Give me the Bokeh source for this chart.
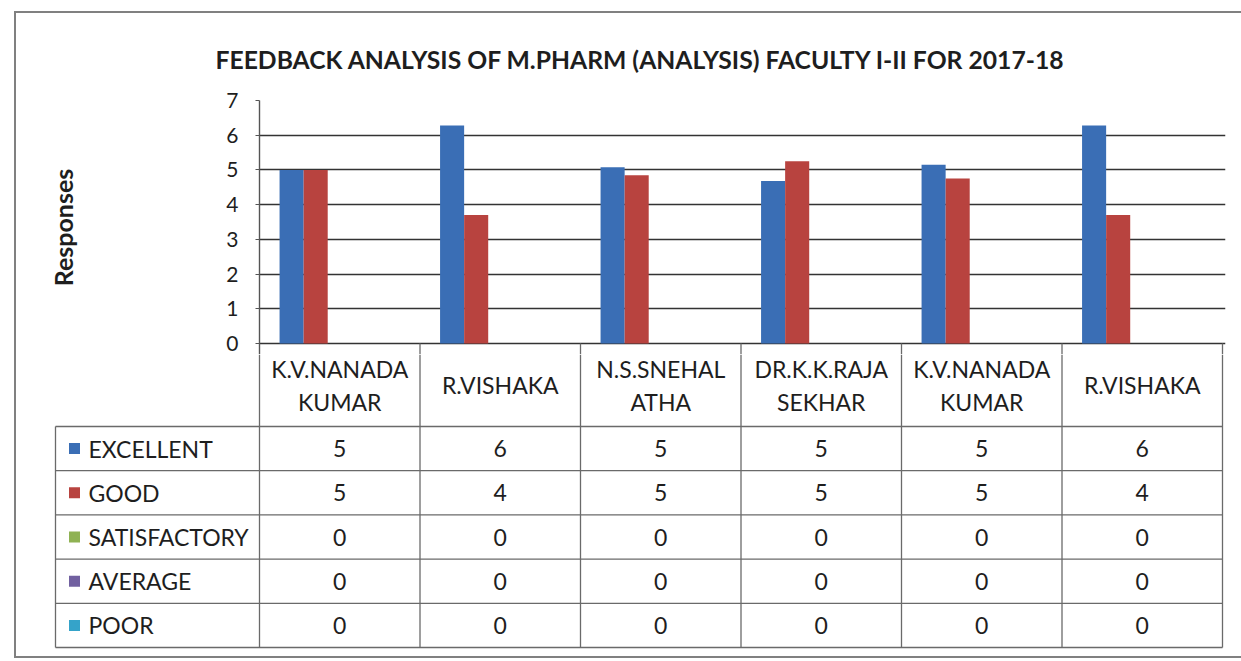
from bokeh.plotting import figure
from bokeh.models import Range1d, FixedTicker, ColumnDataSource, Title
from bokeh.layouts import column
from bokeh.embed import file_html
from bokeh.resources import INLINE
from bokeh.core.properties import value

# ---------------- data ----------------
title_text = "FEEDBACK ANALYSIS OF M.PHARM (ANALYSIS) FACULTY I-II FOR 2017-18"
y_label = "Responses"
faculty_lines = [["K.V.NANADA", "KUMAR"], ["R.VISHAKA"], ["N.S.SNEHAL", "ATHA"],
                 ["DR.K.K.RAJA", "SEKHAR"], ["K.V.NANADA", "KUMAR"], ["R.VISHAKA"]]
series_names = ["EXCELLENT", "GOOD", "SATISFACTORY", "AVERAGE", "POOR"]
excellent = [5.0, 6.28, 5.08, 4.68, 5.15, 6.28]
good = [5.0, 3.7, 4.85, 5.25, 4.75, 3.7]
satisfactory = [0, 0, 0, 0, 0, 0]
average = [0, 0, 0, 0, 0, 0]
poor = [0, 0, 0, 0, 0, 0]
y_ticks = [0, 1, 2, 3, 4, 5, 6, 7]
series_colors = ["#3a6eb5", "#b8433f", "#8fb253", "#7160a0", "#35a3c9"]

# ---------------- layout (page pixels) ----------------
FONT = "Lato"
OX, OY = 16, 13                 # content origin inside the outer border
PAGE_W, PAGE_BOTTOM = 1241, 656
COL_W = 160.5
FRAME_L = 259                   # category axis starts here
FRAME_R = FRAME_L + 6 * COL_W + 3
FRAME_TOP = 100
AXIS_Y = 343                    # value 0
SPLIT_Y = 354                   # boundary between chart and table figures
HEADER_BOTTOM = 426
ROW_H = 44.2
LEG_LEFT = 55
LINE_C = "#6a6a6a"
TXT_C = "#1e1e1e"

W = PAGE_W - OX
TOP_H = SPLIT_Y - OY
BOT_H = PAGE_BOTTOM - SPLIT_Y

n = len(faculty_lines)
series = [excellent, good, satisfactory, average, poor]
BAR_W = 0.15
unit = (AXIS_Y - FRAME_TOP) / 7.0
y_pad = (SPLIT_Y - AXIS_Y) / unit

# ---------------- chart ----------------
pA = figure(width=W, height=TOP_H,
            x_range=Range1d(0, (FRAME_R - FRAME_L) / COL_W),
            y_range=Range1d(-y_pad, 7), output_backend="svg", toolbar_location=None,
            x_axis_location=None, min_border_left=FRAME_L - OX,
            min_border_right=int(round(PAGE_W - FRAME_R)),
            min_border_top=FRAME_TOP - OY, min_border_bottom=0)
pA.frame_align = False
pA.add_layout(Title(text=title_text, align="left", offset=-44, standoff=54,
                    text_font=FONT, text_font_size="24.7px", text_font_style="bold",
                    text_color=TXT_C), "above")
pA.outline_line_color = None
pA.xgrid.visible = False
pA.ygrid.ticker = FixedTicker(ticks=y_ticks)
pA.ygrid.grid_line_color = "#333333"
pA.ygrid.grid_line_width = 1.4
ax = pA.yaxis[0]
ax.ticker = FixedTicker(ticks=y_ticks)
ax.axis_label = y_label
ax.axis_label_text_font = FONT
ax.axis_label_text_font_size = "25px"
ax.axis_label_text_font_style = "bold"
ax.axis_label_text_color = TXT_C
ax.axis_label_standoff = 145
ax.major_label_text_font = FONT
ax.major_label_text_font_size = "21px"
ax.major_label_text_color = TXT_C
ax.major_label_standoff = 17
ax.axis_line_color = "#555555"
ax.axis_line_width = 1.4
ax.major_tick_out = 4
ax.major_tick_in = 0
ax.major_tick_line_color = "#555555"
ax.minor_tick_line_color = None

for k, vals in enumerate(series):
    off = (k - 2) * BAR_W
    src = ColumnDataSource(dict(x=[i + 0.5 + off for i in range(n)], top=vals))
    pA.vbar(x="x", top="top", bottom=0, width=BAR_W, source=src,
            fill_color=series_colors[k], line_color=None)

# table column lines starting right under the category axis
cx = list(range(1, n + 1))
pA.segment(x0=cx, y0=[0] * len(cx), x1=cx, y1=[-y_pad] * len(cx),
           line_color=LINE_C, line_width=1.3)

# ---------------- data table ----------------
x0 = (OX - FRAME_L) / COL_W
pB = figure(width=W, height=BOT_H, x_range=Range1d(x0, x0 + W / COL_W),
            y_range=Range1d(PAGE_BOTTOM, SPLIT_Y), output_backend="svg",
            toolbar_location=None, x_axis_location=None, y_axis_location=None,
            min_border=0)
pB.frame_align = False
pB.outline_line_color = None
for g in pB.grid:
    g.visible = False

leg_left = (LEG_LEFT - FRAME_L) / COL_W
table_bottom = HEADER_BOTTOM + ROW_H * len(series_names)
hy = [HEADER_BOTTOM + ROW_H * k for k in range(len(series_names) + 1)]
pB.segment(x0=[leg_left] * len(hy), y0=hy, x1=[n] * len(hy), y1=hy,
           line_color=LINE_C, line_width=1.3)
vx = list(range(n + 1))
pB.segment(x0=vx, y0=[SPLIT_Y] * len(vx), x1=vx, y1=[table_bottom] * len(vx),
           line_color=LINE_C, line_width=1.3)
pB.segment(x0=[leg_left], y0=[HEADER_BOTTOM], x1=[leg_left], y1=[table_bottom],
           line_color=LINE_C, line_width=1.3)

# header labels
hmid = (AXIS_Y + HEADER_BOTTOM) / 2
hx, hyy, ht = [], [], []
for i, lines in enumerate(faculty_lines):
    if len(lines) == 1:
        hx.append(i + 0.5); hyy.append(hmid); ht.append(lines[0])
    else:
        for j, t in enumerate(lines):
            hx.append(i + 0.5); hyy.append(hmid + (j - 0.5) * 33); ht.append(t)
pB.text(x=hx, y=hyy, text=ht, text_align="center", text_baseline="middle",
        text_font=value(FONT), text_font_size="23px", text_color=TXT_C)

# row labels with legend keys
row_y = [HEADER_BOTTOM + ROW_H * (k + 0.5) for k in range(len(series_names))]
key_x = leg_left + 19 / COL_W
pB.scatter(x=[key_x] * len(series_names), y=row_y, marker="square", size=11,
           fill_color=series_colors, line_color=None)
pB.text(x=[leg_left + 33 / COL_W] * len(series_names), y=row_y, text=series_names,
        text_align="left", text_baseline="middle", text_font=value(FONT),
        text_font_size="23px", text_color=TXT_C)

# values
vx_, vy_, vt_ = [], [], []
for k, vals in enumerate(series):
    for i, v in enumerate(vals):
        vx_.append(i + 0.5); vy_.append(row_y[k]); vt_.append(f"{round(v):d}")
pB.text(x=vx_, y=vy_, text=vt_, text_align="center", text_baseline="middle",
        text_font=value(FONT), text_font_size="23px", text_color=TXT_C)

layout = column(pA, pB, spacing=0,
                styles={"margin-left": "14px", "margin-top": "11px",
                        "border-left": "2px solid #808080",
                        "border-top": "2px solid #808080",
                        "border-bottom": "2px solid #808080"})

open("out.html", "w").write(file_html(layout, INLINE))
